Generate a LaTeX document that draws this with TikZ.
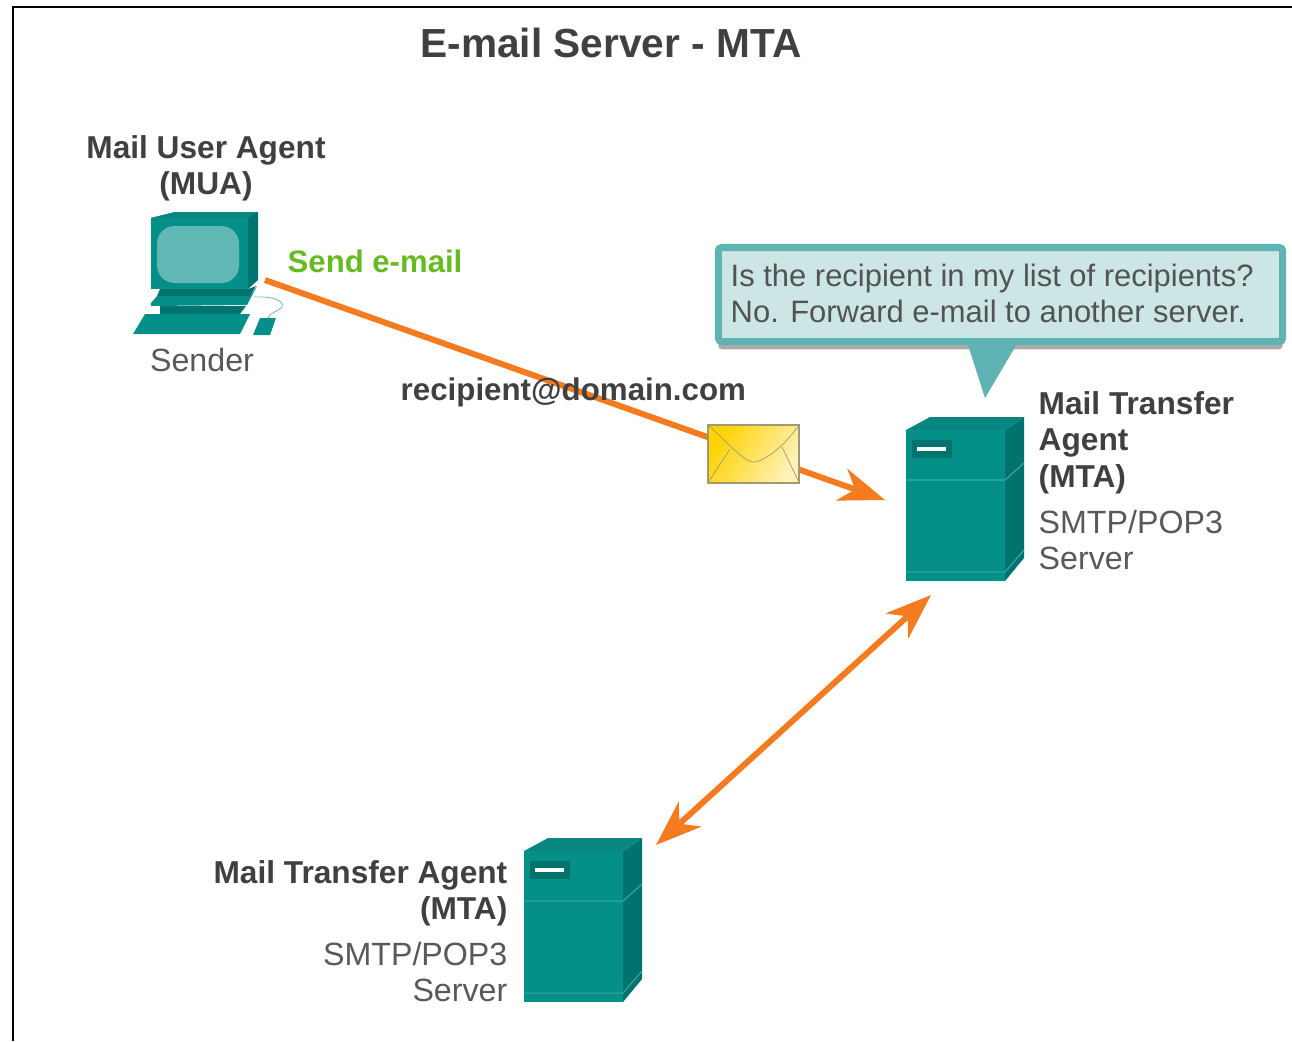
\documentclass[tikz,border=0pt]{standalone}
\usepackage{fontspec}
\setmainfont{Liberation Sans}
\usetikzlibrary{arrows.meta,shadows}
\definecolor{tealfront}{HTML}{058F89}
\definecolor{tealside}{HTML}{00736E}
\definecolor{tealtop}{HTML}{0A8680}
\definecolor{tealscreen}{HTML}{62B8B4}
\definecolor{bubbleedge}{HTML}{5FB3B3}
\definecolor{bubblefill}{HTML}{CBE6E4}
\definecolor{darktext}{HTML}{404040}
\definecolor{greytext}{HTML}{595959}
\definecolor{sendgreen}{HTML}{66BB22}
\definecolor{arroworange}{HTML}{F47B20}
\definecolor{lettergold}{HTML}{FFD200}
\definecolor{letterpale}{HTML}{FFF2B8}
\definecolor{letteredge}{HTML}{A09A70}
\tikzset{
	boldlabel/.style={inner sep=0pt, text=darktext, font=\fontsize{9}{10.3}\selectfont\bfseries},
	greylabel/.style={inner sep=0pt, text=greytext, font=\fontsize{9.15}{10.3}\selectfont},
	flow/.style={draw=arroworange, line width=1.7pt, >={Stealth[length=13pt, width=9.5pt, inset=4pt]}},
	server/.pic={
		\fill[tealside] (99,13) -- (118,0) -- (118,141) -- (99,164) -- cycle;
		\fill[tealtop] (0,13) -- (24,0) -- (118,0) -- (99,13) -- cycle;
		\fill[tealfront] (0,13) -- (99,13) -- (99,164) -- (0,164) -- cycle;
		\draw[tealscreen!60!tealfront, line width=0.3pt] (0,63) -- (99,63) -- (118,46);
		\draw[tealscreen!60!tealfront, line width=0.3pt] (0,155) -- (99,155) -- (118,133);
		\fill[tealside] (6,23) rectangle (46,41);
		\fill[white] (11,30) rectangle (40,34);
	}
}
\begin{document}
\begin{tikzpicture}[x=0.01cm, y=-0.01cm]
	\useasboundingbox (0,0) rectangle (1292,1041);
	\fill[white] (0,0) rectangle (1292,1041);
	\draw[line width=0.5pt] (13,1041) -- (13,7) -- (1292,7);

	\node[anchor=base, inner sep=0pt, text=darktext, font=\fontsize{11.55}{14}\selectfont\bfseries] (title) at (611,57) {E-mail Server - MTA};

	\fill[tealside] (151,218) -- (175,212) -- (258,212) -- (258,280) -- (248,289) -- cycle;
	\fill[tealtop] (151,218) -- (175,212) -- (258,212) -- (248,218) -- cycle;
	\fill[tealfront] (151,218) rectangle (248,289);
	\fill[tealscreen, rounded corners=5pt] (157,226) rectangle (239,283);
	\fill[tealfront] (151,303) -- (157,296) -- (250,296) -- (257,286) -- (247,305) -- (151,306) -- cycle;
	\fill[tealside] (160,289) -- (248,289) -- (256,286) -- (250,296) -- (157,296) -- cycle;
	\fill[tealside] (160,306) -- (246,306) -- (240,314) -- (160,314) -- cycle;
	\fill[tealfront] (133,334) -- (145,314) -- (250,314) -- (240,334) -- cycle;
	\fill[tealfront] (253,335) -- (260,318) -- (276,318) -- (270,335) -- cycle;
	\draw[bubbleedge, line width=0.2pt] (254,297) .. controls (270,296) and (285,300) .. (282,307) .. controls (278,312) and (270,312) .. (268,318);

	\node[boldlabel, anchor=north, align=center] (mua) at (206,135) {Mail User Agent\\(MUA)};
	\node[greylabel, anchor=base] (sender) at (202,371) {Sender};
	\node[anchor=base west, inner sep=0pt, text=sendgreen, font=\fontsize{8.85}{10.3}\selectfont\bfseries] (send) at (287,272) {Send e-mail};

	\coordinate (mailstart) at (265,280);
	\coordinate (mailend) at (885,500);
	\coordinate (relayup) at (931,595);
	\coordinate (relaydown) at (656,845);
	\draw[flow, ->] (mailstart) -- (mailend);
	\draw[flow, <->] (relaydown) -- (relayup);

	\node[boldlabel, font=\fontsize{8.9}{10.3}\selectfont\bfseries, anchor=base west] (address) at (400,400) {recipient@domain.com};

	\node[draw=letteredge, line width=0.4pt, minimum width=0.91cm, minimum height=0.58cm, inner sep=0pt, shade, shading=axis, left color=lettergold, right color=letterpale, shading angle=60] (letter) at (753.5,454) {};
	\draw[letteredge, line width=0.2pt] (letter.north west) .. controls (730,445) and (745,462) .. (753,462) .. controls (765,462) and (785,445) .. (letter.north east);
	\draw[letteredge, line width=0.2pt] (letter.south west) -- (730,449);
	\draw[letteredge, line width=0.2pt] (letter.south east) -- (782,447);

	\node[draw=bubbleedge, fill=bubblefill, line width=2pt, rounded corners=1pt, minimum width=5.64cm, minimum height=0.94cm, inner sep=0pt, drop shadow={shadow xshift=0pt, shadow yshift=-2.2pt, fill=black!65}] (callout) at (1000.5,294.5) {};
	\fill[bubbleedge] (967,342) -- (1018,342) -- (985,398) -- cycle;
	\node[greylabel, text=darktext!90, font=\fontsize{8.8}{10.3}\selectfont, anchor=north west, align=left] (question) at (730,263) {Is the recipient in my list of recipients?\\No. Forward e-mail to another server.};

	\pic (mainserver) at (906,417) {server};
	\pic (otherserver) at (524,838) {server};

	\node[boldlabel, anchor=north west, align=left] (mtaone) at (1038,391) {Mail Transfer\\Agent\\(MTA)};
	\node[greylabel, anchor=north west, align=left] (smtpone) at (1038,509) {SMTP/POP3\\Server};
	\node[boldlabel, anchor=north east, align=right] (mtatwo) at (508,860) {Mail Transfer Agent\\(MTA)};
	\node[greylabel, anchor=north east, align=right] (smtptwo) at (508,941) {SMTP/POP3\\Server};
\end{tikzpicture}
\end{document}
